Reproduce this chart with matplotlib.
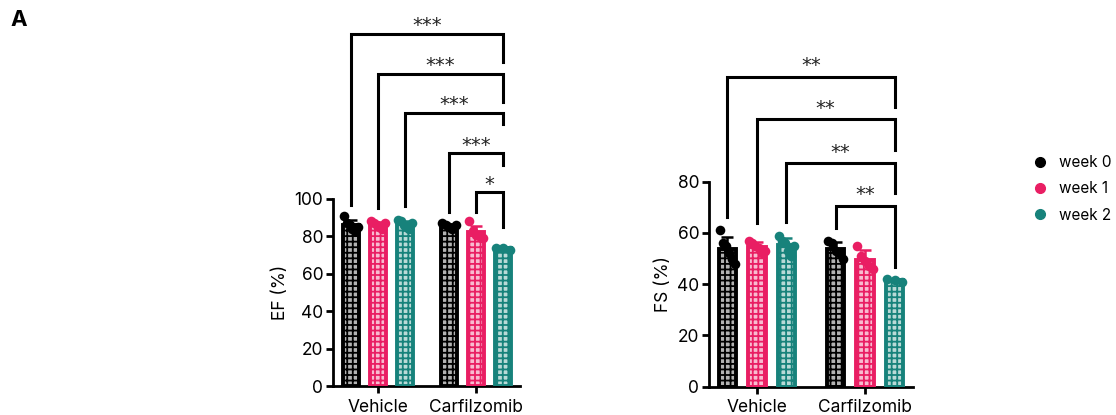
import numpy as np
import matplotlib
matplotlib.use("Agg")
import matplotlib.pyplot as plt
from matplotlib.lines import Line2D
from matplotlib.colors import to_rgb

plt.rcParams['font.family'] = ['Inter', 'DejaVu Sans']
plt.rcParams['hatch.linewidth'] = 1.3

groups = ["Vehicle", "Carfilzomib"]
weeks = ["week 0", "week 1", "week 2"]
colors = ["#000000", "#E91E63", "#17827B"]

# Ejection fraction (%) per animal: [group][week]
ef_vehicle_w0 = [91, 87, 86, 84, 83, 85]
ef_vehicle_w1 = [88, 87, 86, 85, 84, 87]
ef_vehicle_w2 = [89, 88, 86, 85, 84, 87]
ef_carf_w0 = [87, 86, 85, 84, 86]
ef_carf_w1 = [88, 83, 81, 80, 79]
ef_carf_w2 = [74, 74, 73]

# Fractional shortening (%) per animal
fs_vehicle_w0 = [61, 56, 55, 52, 50, 48]
fs_vehicle_w1 = [57, 56, 55, 54, 52, 53]
fs_vehicle_w2 = [59, 57, 56, 53, 51, 55]
fs_carf_w0 = [57, 56, 53, 52, 50]
fs_carf_w1 = [55, 51, 49, 47, 46]
fs_carf_w2 = [42, 41.5, 41]

ef_data = [[ef_vehicle_w0, ef_vehicle_w1, ef_vehicle_w2],
           [ef_carf_w0, ef_carf_w1, ef_carf_w2]]
fs_data = [[fs_vehicle_w0, fs_vehicle_w1, fs_vehicle_w2],
           [fs_carf_w0, fs_carf_w1, fs_carf_w2]]

# Comparisons vs Carfilzomib week 2: (group, week, label)
ef_tests = [(0, 0, "***"), (0, 1, "***"), (0, 2, "***"), (1, 0, "***"), (1, 1, "*")]
fs_tests = [(0, 0, "**"), (0, 1, "**"), (0, 2, "**"), (1, 0, "**")]

# bracket geometry (y of bar, left drop end, right drop end)
ef_brackets = [(188, 97, 173), (166.6, 95, 151.6), (145.7, 96.5, 139.8),
               (124.3, 93, 118), (103.5, 92.8, 84.8)]
fs_brackets = [(121, 66.3, 109.3), (104.3, 63.8, 92.4), (87.2, 64.4, 75.5),
               (70.5, 62, 46.8)]


def lighten(c, f):
    r, g, b = to_rgb(c)
    return (r + (1 - r) * f, g + (1 - g) * f, b + (1 - b) * f)


def draw_panel(ax, data, tests, brackets, offset, width, ymax, ylabel, star_off):
    xpos = {}
    for gi, grp in enumerate(data):
        for wi, vals in enumerate(grp):
            x = gi + (wi - 1) * offset
            xpos[(gi, wi)] = x
            m = np.mean(vals)
            sd = np.std(vals, ddof=1)
            c = colors[wi]
            ax.bar(x, m, width=width, color=lighten(c, 0.7), edgecolor=c,
                   hatch='+++', linewidth=0, zorder=2)
            ax.bar(x, m, width=width, fill=False, edgecolor=c,
                   linewidth=2.8, zorder=3)
            ax.errorbar(x, m, yerr=[[0], [sd]], color=c, capsize=4,
                        elinewidth=1.8, capthick=1.8, zorder=3)
            jitter = np.linspace(-1, 1, len(vals)) * width * 0.45
            ax.scatter(x + jitter, vals, s=48, color=c, zorder=4,
                       linewidths=0, clip_on=False)
    xr = xpos[(1, 2)]
    for (gi, wi, lab), (yb, yl, yr) in zip(tests, brackets):
        xl = xpos[(gi, wi)]
        ax.plot([xl, xl, xr, xr], [yl, yb, yb, yr], color='black', lw=2.2,
                clip_on=False, solid_joinstyle='miter', zorder=5)
        ax.annotate(lab, ((xl + xr) / 2, yb), xytext=(0, star_off),
                    textcoords='offset points', ha='center', va='center',
                    fontsize=14, family='DejaVu Sans', color='#222222',
                    annotation_clip=False)
    ax.set_ylim(0, ymax)
    ax.set_yticks(np.arange(0, ymax + 1, 20))
    ax.set_xticks([0, 1])
    ax.set_xticklabels(groups)
    ax.set_ylabel(ylabel, fontsize=12.5, labelpad=4)
    for s in ['top', 'right']:
        ax.spines[s].set_visible(False)
    for s in ['left', 'bottom']:
        ax.spines[s].set_linewidth(2.0)
    ax.tick_params(axis='both', width=2.0, length=5, labelsize=12.5, pad=2)
    ax.tick_params(axis='x', pad=4)


fig = plt.figure(figsize=(11.16, 4.15), dpi=100)
ax1 = fig.add_axes([0.2984, 0.0687, 0.1676, 0.4518])
ax1.set_xlim(-0.459, 1.449)
draw_panel(ax1, ef_data, ef_tests, ef_brackets, 0.2755, 0.155, 100, "EF (%)", 6)

ax2 = fig.add_axes([0.6353, 0.0682, 0.1828, 0.494])
ax2.set_xlim(-0.444, 1.444)
draw_panel(ax2, fs_data, fs_tests, fs_brackets, 0.273, 0.16, 80, "FS (%)", 8)

handles = [Line2D([], [], marker='o', ls='', color=c, markersize=7) for c in colors]
fig.legend(handles, weeks, loc='upper left', bbox_to_anchor=(0.913, 0.66),
           frameon=False, fontsize=11, handletextpad=0.7, labelspacing=0.75,
           handlelength=1.0)

fig.text(0.009, 0.975, "A", fontsize=16, fontweight='bold', va='top', ha='left')

fig.savefig("out.png", dpi=100)
